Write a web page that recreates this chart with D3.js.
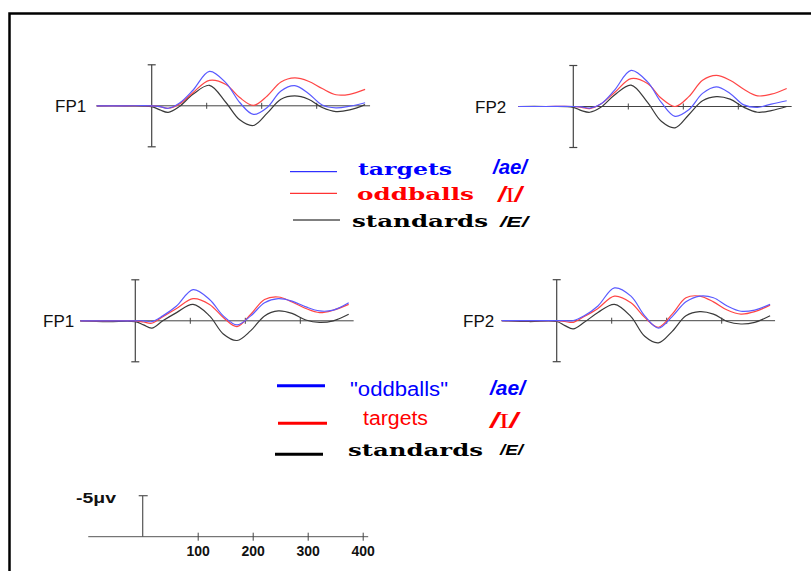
<!DOCTYPE html>
<head>
  <meta charset="UTF-8">
  <style>
    body { margin: 0; background: #fff; }
    svg { display: block; }
  </style>
</head>
<body>
<script src="https://d3js.org/d3.v7.min.js"></script>
<div id="chart"></div>
<script>

  // sample times (ms) shared by every trace
  var times = [-100, -50, 0, 15, 30, 50, 75, 105, 135, 160, 185, 210, 235, 260, 285, 310, 335, 360, 388];

  // amplitudes in microvolts (negative plotted up)
  // top pair: targets /ae/, oddballs /I/, standards /E/
  var fp1TopBlue  = [0, 0, 0, 0.1, 0.3, -0.3, -1.9, -4.2, -2.8, -0.4, 1.05, 0.2, -1.8, -2.45, -1.5, -0.1, 0.25, 0.05, -0.37];
  var fp1TopRed   = [0, 0, 0, 0.1, 0.3, -0.2, -1.6, -3.1, -2.6, -1.0, -0.05, -1.2, -2.9, -3.4, -3.0, -2.1, -1.35, -1.4, -2.0];
  var fp1TopBlack = [0, 0, 0.1, 0.5, 0.8, 0.1, -1.4, -2.5, -0.4, 1.7, 2.4, 0.9, -0.8, -1.2, -0.8, 0.2, 0.7, 0.5, -0.15];

  var fp2TopBlue  = [0, 0, 0, 0.05, 0.2, -0.3, -2.0, -4.4, -3.0, -0.5, 1.2, 0.4, -1.6, -2.4, -1.6, -0.2, 0.1, -0.3, -0.7];
  var fp2TopRed   = [0, 0, 0, 0.1, 0.25, -0.3, -1.7, -3.4, -2.8, -1.0, 0, -1.2, -3.2, -3.8, -3.2, -2.1, -1.3, -1.5, -2.2];
  var fp2TopBlack = [0, 0, 0.1, 0.5, 0.7, 0.1, -1.4, -2.6, -0.5, 1.8, 2.6, 1.0, -0.7, -1.2, -0.9, 0.1, 0.7, 0.5, 0];

  // bottom pair: "oddballs" /ae/, targets /I/, standards /E/
  var fp1BotBlue  = [0, 0, 0, 0, 0.1, -0.6, -1.8, -3.8, -2.6, -0.6, 0.5, -0.6, -2.2, -2.7, -2.4, -1.7, -1.2, -1.3, -2.2];
  var fp1BotRed   = [0, 0, 0, 0.15, 0.3, -0.5, -1.5, -2.7, -2.0, -0.4, 0.7, -0.8, -2.6, -2.9, -2.3, -1.5, -1.0, -1.3, -2.0];
  var fp1BotBlack = [0, 0.1, 0.1, 0.5, 0.9, 0, -1.0, -2.0, -0.6, 1.6, 2.4, 1.2, -0.6, -1.2, -0.9, -0.1, 0.2, 0, -0.8];

  var fp2BotBlue  = [0, 0, 0, 0, 0, -0.6, -1.8, -4.0, -3.0, -0.6, 0.9, -0.5, -2.3, -3.0, -2.8, -1.8, -1.15, -1.3, -2.0];
  var fp2BotRed   = [0, 0, 0, 0.1, 0.2, -0.5, -1.5, -3.0, -2.2, -0.4, 0.8, -0.8, -2.8, -3.0, -2.3, -1.3, -0.8, -1.1, -1.9];
  var fp2BotBlack = [0, 0.1, 0.1, 0.6, 1.0, 0.2, -1.0, -2.0, -0.5, 1.9, 2.7, 1.3, -0.6, -1.1, -0.8, 0.1, 0.4, 0.2, -0.6];

  var axisTicks = [100, 200, 300];
  var scaleTicks = [100, 200, 300, 400];
  var traceColors = ["#5a5aff", "#ff4646", "#3a3a3a"];

  var width = 811, height = 571;
  var pxPerMs = 0.55;       // 100 ms = 55 px
  var halfBar = 41;         // 5 uV = 41 px

  var svg = d3.select("#chart").append("svg")
    .attr("width", width)
    .attr("height", height);

  // frame (left and top edges only)
  svg.append("path")
    .attr("d", "M9.5," + height + "V13.5H" + width)
    .attr("fill", "none")
    .attr("stroke", "#000")
    .attr("stroke-width", 2.5);

  var panels = [
    {label: "FP1", ox: 151.7, oy: 105.8, labelX: 55, series: [fp1TopBlue, fp1TopRed, fp1TopBlack]},
    {label: "FP2", ox: 573.3, oy: 106.5, labelX: 475, series: [fp2TopBlue, fp2TopRed, fp2TopBlack]},
    {label: "FP1", ox: 135.3, oy: 320.8, labelX: 43, series: [fp1BotBlue, fp1BotRed, fp1BotBlack]},
    {label: "FP2", ox: 556.7, oy: 320.7, labelX: 463, series: [fp2BotBlue, fp2BotRed, fp2BotBlack]}
  ];

  panels.forEach(function(p) {
    var x = d3.scaleLinear().domain([0, 100]).range([p.ox, p.ox + 100 * pxPerMs]);
    var y = d3.scaleLinear().domain([-5, 5]).range([p.oy - halfBar, p.oy + halfBar]);
    var g = svg.append("g");

    g.append("text")
      .attr("x", p.labelX)
      .attr("y", p.oy + 6)
      .attr("font-family", "Liberation Sans, Arial, sans-serif")
      .attr("font-size", 17)
      .attr("fill", "#111")
      .text(p.label);

    // time axis
    g.append("line")
      .attr("x1", x(-100)).attr("x2", x(397))
      .attr("y1", y(0)).attr("y2", y(0))
      .attr("stroke", "#444").attr("stroke-width", 1);

    g.selectAll(".tick")
      .data(axisTicks)
      .enter().append("line")
      .attr("x1", d => x(d)).attr("x2", d => x(d))
      .attr("y1", y(0) - 3).attr("y2", y(0) + 3)
      .attr("stroke", "#444");

    // amplitude bar with caps
    g.append("line")
      .attr("x1", x(0)).attr("x2", x(0))
      .attr("y1", y(-5)).attr("y2", y(5))
      .attr("stroke", "#444").attr("stroke-width", 1.2);
    [-5, 5].forEach(function(v) {
      g.append("line")
        .attr("x1", x(0) - 4).attr("x2", x(0) + 4)
        .attr("y1", y(v)).attr("y2", y(v))
        .attr("stroke", "#444").attr("stroke-width", 1.2);
    });

    var line = d3.line()
      .x(d => x(d[0]))
      .y(d => y(d[1]))
      .curve(d3.curveCatmullRom.alpha(0.5));

    // draw black first so colours sit on top
    [2, 1, 0].forEach(function(i) {
      g.append("path")
        .datum(d3.zip(times, p.series[i]))
        .attr("d", line)
        .attr("fill", "none")
        .attr("stroke", traceColors[i])
        .attr("stroke-width", 1.2);
    });
  });

  // legends
  var serif = "DejaVu Serif, Liberation Serif, serif";
  var sans = "Liberation Sans, Arial, sans-serif";

  function addText(o) {
    var t = svg.append("text")
      .attr("x", o.x).attr("y", o.y)
      .attr("font-family", o.family)
      .attr("font-size", o.size)
      .attr("font-weight", o.weight || "normal")
      .attr("font-style", o.style || "normal")
      .attr("fill", o.color)
      .attr("textLength", o.len)
      .attr("lengthAdjust", "spacingAndGlyphs")
      .text(o.text);
    return t;
  }

  function addPhoneme(xp, yp, len, color) {
    var t = svg.append("text")
      .attr("x", xp).attr("y", yp)
      .attr("font-size", 22)
      .attr("fill", color)
      .attr("textLength", len)
      .attr("lengthAdjust", "spacingAndGlyphs");
    t.append("tspan").attr("font-family", sans).attr("font-style", "italic").attr("font-weight", "bold").text("/");
    t.append("tspan").attr("font-family", "Liberation Serif, serif").text("I");
    t.append("tspan").attr("font-family", sans).attr("font-style", "italic").attr("font-weight", "bold").text("/");
  }

  var legendTop = ["targets", "oddballs", "standards"];
  var legendBottom = ["\"oddballs\"", "targets", "standards"];
  var legendColors = ["#0000ff", "#ff0000", "#000000"];

  // top legend
  [[290, 337, 171.7], [290, 337, 193.3], [293, 340, 220]].forEach(function(s, i) {
    svg.append("line")
      .attr("x1", s[0]).attr("x2", s[1]).attr("y1", s[2]).attr("y2", s[2])
      .attr("stroke", legendColors[i]).attr("stroke-width", 1);
  });
  addText({x: 358, y: 175, text: legendTop[0], family: serif, size: 17, weight: "bold", color: legendColors[0], len: 94});
  addText({x: 357, y: 200, text: legendTop[1], family: serif, size: 17, weight: "bold", color: legendColors[1], len: 117});
  addText({x: 352, y: 227, text: legendTop[2], family: serif, size: 17, weight: "bold", color: legendColors[2], len: 136});
  addText({x: 493, y: 174, text: "/ae/", family: sans, size: 21, weight: "bold", style: "italic", color: legendColors[0], len: 34});
  addPhoneme(498, 202, 24, legendColors[1]);
  addText({x: 500, y: 227, text: "/E/", family: sans, size: 15, weight: "bold", style: "italic", color: legendColors[2], len: 28});

  // bottom legend
  [[277, 325, 385.7], [278, 327, 423.3], [275, 323, 454.3]].forEach(function(s, i) {
    svg.append("line")
      .attr("x1", s[0]).attr("x2", s[1]).attr("y1", s[2]).attr("y2", s[2])
      .attr("stroke", legendColors[i]).attr("stroke-width", 3);
  });
  addText({x: 350, y: 396, text: legendBottom[0], family: sans, size: 20, color: legendColors[0], len: 98});
  addText({x: 363, y: 425, text: legendBottom[1], family: sans, size: 20, color: legendColors[1], len: 65});
  addText({x: 348, y: 456, text: legendBottom[2], family: serif, size: 17, weight: "bold", color: legendColors[2], len: 135});
  addText({x: 490, y: 395, text: "/ae/", family: sans, size: 21, weight: "bold", style: "italic", color: legendColors[0], len: 35});
  addPhoneme(490, 428, 28, legendColors[1]);
  addText({x: 500, y: 455, text: "/E/", family: sans, size: 15, weight: "bold", style: "italic", color: legendColors[2], len: 23});

  // calibration bar
  var sx = d3.scaleLinear().domain([0, 100]).range([142.7, 142.7 + 100 * pxPerMs]);
  var sy = 536.7;

  svg.append("g")
    .attr("transform", "translate(0," + sy + ")")
    .call(d3.axisBottom(sx).tickValues(scaleTicks).tickSizeOuter(0).tickSize(4).tickPadding(5).tickFormat(d3.format("d")))
    .call(g => g.select(".domain").attr("stroke", "#555").attr("d", "M" + sx(-99) + ",0H" + sx(410)))
    .call(g => g.selectAll(".tick line").attr("y1", -4).attr("stroke", "#444"))
    .call(g => g.selectAll(".tick text")
      .attr("font-family", sans).attr("font-size", 14).attr("font-weight", "bold").attr("fill", "#111"));

  svg.append("line")
    .attr("x1", sx(0)).attr("x2", sx(0))
    .attr("y1", sy).attr("y2", sy - halfBar)
    .attr("stroke", "#555").attr("stroke-width", 1.2);
  svg.append("line")
    .attr("x1", sx(0) - 4).attr("x2", sx(0) + 5)
    .attr("y1", sy - halfBar).attr("y2", sy - halfBar)
    .attr("stroke", "#555").attr("stroke-width", 1.2);

  addText({x: 76, y: 503, text: "-5\u03bcv", family: sans, size: 15, weight: "bold", color: "#111", len: 40});

</script>
</body>
</html>
